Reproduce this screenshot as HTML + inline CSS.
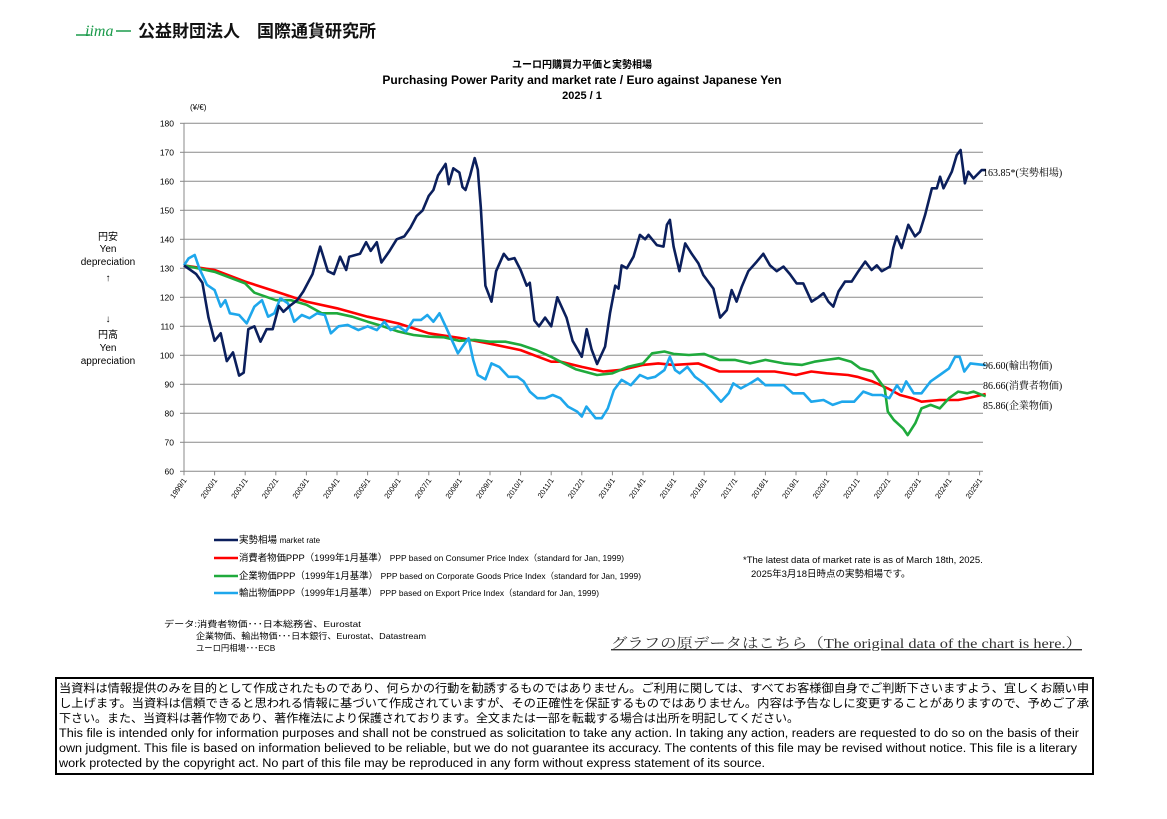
<!DOCTYPE html>
<html><head><meta charset="utf-8">
<style>
html,body{margin:0;padding:0;background:#fff;}
body{width:1167px;height:814px;overflow:hidden;position:relative;font-family:"Liberation Sans","Noto Sans CJK JP",sans-serif;}
svg text{font-family:"Liberation Sans","Noto Sans CJK JP",sans-serif;}
svg text.serif{font-family:"Liberation Serif","Noto Serif CJK SC",serif;}
</style></head><body>
<svg id="chart" width="1167" height="814" viewBox="0 0 1167 814" xmlns="http://www.w3.org/2000/svg">
<g>
<line x1="76" y1="35" x2="90" y2="35" stroke="#1a9a4a" stroke-width="1.5"/>
<text class="serif" x="85" y="36" font-size="16" font-style="italic" fill="#1a9a4a">iima</text>
<line x1="116" y1="31" x2="131" y2="31" stroke="#1a9a4a" stroke-width="1.5"/>
<text x="138" y="37" font-size="17" font-weight="bold" fill="#111">公益財団法人　国際通貨研究所</text>
</g>
<g text-anchor="middle" font-weight="bold" fill="#000">
<text x="582" y="68" font-size="10">ユーロ円購買力平価と実勢相場</text>
<text x="582" y="84" font-size="12">Purchasing Power Parity and market rate / Euro against Japanese Yen</text>
<text x="582" y="99" font-size="11">2025 / 1</text>
</g>
<text x="190" y="110" font-size="8" fill="#000">(¥/€)</text>
<g text-anchor="middle" font-size="10" fill="#000">
<text x="108" y="240">円安</text><text x="108" y="252">Yen</text><text x="108" y="265">depreciation</text><text x="108" y="281">↑</text>
<text x="108" y="322">↓</text><text x="108" y="338">円高</text><text x="108" y="351">Yen</text><text x="108" y="364">appreciation</text>
</g>
<g id="grid"></g><g id="axes"></g><g id="series"></g><g id="endlabels"></g>
<g font-size="9.5" fill="#000">
<line x1="214" y1="540" x2="238" y2="540" stroke="#0b1f5c" stroke-width="2.5"/><text x="239" y="543">実勢相場 <tspan font-size="8">market rate</tspan></text>
<line x1="214" y1="558" x2="238" y2="558" stroke="#ff0000" stroke-width="2.5"/><text x="239" y="561" textLength="385" lengthAdjust="spacingAndGlyphs">消費者物価PPP（1999年1月基準） <tspan font-size="8.5">PPP based on Consumer Price Index（standard for Jan, 1999)</tspan></text>
<line x1="214" y1="576" x2="238" y2="576" stroke="#1faa3c" stroke-width="2.5"/><text x="239" y="579" textLength="402" lengthAdjust="spacingAndGlyphs">企業物価PPP（1999年1月基準） <tspan font-size="8.5">PPP based on Corporate Goods Price Index（standard for Jan, 1999)</tspan></text>
<line x1="214" y1="593" x2="238" y2="593" stroke="#1ea7ec" stroke-width="2.5"/><text x="239" y="596" textLength="360" lengthAdjust="spacingAndGlyphs">輸出物価PPP（1999年1月基準） <tspan font-size="8.5">PPP based on Export Price Index（standard for Jan, 1999)</tspan></text>
</g>
<g font-size="9.5" fill="#000">
<text x="743" y="563">*The latest data of market rate is as of  March 18th, 2025.</text>
<text x="751" y="577">2025年3月18日時点の実勢相場です。</text>
</g>
<g font-size="8.3" fill="#000">
<text x="164" y="627" textLength="197" lengthAdjust="spacingAndGlyphs">データ:消費者物価･･･日本総務省、Eurostat</text>
<text x="196" y="639" textLength="230" lengthAdjust="spacingAndGlyphs">企業物価、輸出物価･･･日本銀行、Eurostat、Datastream</text>
<text x="196" y="651">ユーロ円相場･･･ECB</text>
</g>
<text class="serif" x="611" y="648" font-size="14" fill="#333" text-decoration="underline" textLength="471" lengthAdjust="spacingAndGlyphs">グラフの原データはこちら（The original data of the chart is here.）</text>
<rect x="56" y="678" width="1037" height="96" fill="none" stroke="#000" stroke-width="2"/>
<g font-size="11.5" fill="#000">
<text x="59" y="692" textLength="1030" lengthAdjust="spacingAndGlyphs">当資料は情報提供のみを目的として作成されたものであり、何らかの行動を勧誘するものではありません。ご利用に関しては、すべてお客様御自身でご判断下さいますよう、宜しくお願い申</text>
<text x="59" y="707" textLength="1030" lengthAdjust="spacingAndGlyphs">し上げます。当資料は信頼できると思われる情報に基づいて作成されていますが、その正確性を保証するものではありません。内容は予告なしに変更することがありますので、予めご了承</text>
<text x="59" y="722" textLength="740" lengthAdjust="spacingAndGlyphs">下さい。また、当資料は著作物であり、著作権法により保護されております。全文または一部を転載する場合は出所を明記してください。</text>
<text x="59" y="737" textLength="1020" lengthAdjust="spacingAndGlyphs">This file is intended only for information purposes and shall not be construed as solicitation to take any action. In taking any action, readers are requested to do so on the basis of their</text>
<text x="59" y="752" textLength="1018" lengthAdjust="spacingAndGlyphs">own judgment. This file is based on information believed to be reliable, but we do not guarantee its accuracy. The contents of this file may be revised without notice. This file is a literary</text>
<text x="59" y="767" textLength="706" lengthAdjust="spacingAndGlyphs">work protected by the copyright act. No part of this file may be reproduced in any form without express statement of its source.</text>
</g>
</svg>
<script>
const yTicks = [60,70,80,90,100,110,120,130,140,150,160,170,180];
const xTickLabels = ["1999/1","2000/1","2001/1","2002/1","2003/1","2004/1","2005/1","2006/1","2007/1","2008/1","2009/1","2010/1","2011/1","2012/1","2013/1","2014/1","2015/1","2016/1","2017/1","2018/1","2019/1","2020/1","2021/1","2022/1","2023/1","2024/1","2025/1"];
const marketT = [1999.0,1999.4,1999.6,1999.8,2000.0,2000.2,2000.4,2000.6,2000.8,2000.95,2001.1,2001.3,2001.5,2001.7,2001.9,2002.1,2002.25,2002.45,2002.7,2002.9,2003.2,2003.45,2003.7,2003.9,2004.1,2004.3,2004.4,2004.75,2004.95,2005.1,2005.3,2005.45,2005.7,2005.95,2006.2,2006.4,2006.6,2006.8,2007.0,2007.15,2007.3,2007.55,2007.65,2007.8,2008.0,2008.1,2008.2,2008.35,2008.5,2008.6,2008.7,2008.85,2009.05,2009.2,2009.45,2009.6,2009.8,2010.0,2010.2,2010.3,2010.45,2010.6,2010.8,2011.0,2011.2,2011.5,2011.7,2012.0,2012.16,2012.32,2012.5,2012.76,2012.92,2013.09,2013.2,2013.3,2013.47,2013.69,2013.9,2014.07,2014.18,2014.45,2014.67,2014.78,2014.88,2015.0,2015.19,2015.38,2015.59,2015.81,2015.97,2016.3,2016.52,2016.74,2016.9,2017.06,2017.23,2017.44,2017.72,2017.93,2018.15,2018.37,2018.59,2018.8,2019.02,2019.24,2019.51,2019.73,2019.9,2020.06,2020.22,2020.39,2020.6,2020.82,2021.04,2021.26,2021.47,2021.64,2021.8,2022.07,2022.18,2022.29,2022.45,2022.67,2022.89,2023.05,2023.22,2023.44,2023.6,2023.71,2023.82,2024.09,2024.25,2024.38,2024.52,2024.63,2024.8,2025.07,2025.2];
const marketV = [131,128,125,113,105,107.6,98,101,93,94,109,110,104.7,109,109,117,115,117,119,122,128,137.5,129,128,134,129.4,134,135,139,136,139,132,135.7,140,141,144,148,150,155,157,162,166,159,164.5,163,158,157,162,168,164,151,124,118.5,129,135,133,133.5,129.4,124,125,112,110,113,110,120,113,105,99.5,109,102,97,103,114.5,124,123,131,130,134,141.5,140,141.5,138,137.5,145,146.7,137.5,129,138.6,135,131.7,127.7,123,113,115.6,122.5,118.5,123.7,129,132.3,135,131,129,130.6,128,124.8,124.8,118.5,120,121.4,118.5,116.8,122,125.4,125.4,129,132.3,129.4,131,129,130.6,137,141,137,145,141,142.6,148.4,157.6,157.6,161.6,157.6,163.3,169,170.8,159.3,163.3,161,163.9,163.85];
const cpiT = [1999.0,2000.0,2001.0,2002.0,2003.0,2004.0,2005.0,2006.0,2007.0,2008.0,2009.0,2010.0,2011.0,2011.3,2012.0,2012.7,2013.3,2014.0,2014.5,2015.0,2015.8,2016.5,2017.5,2018.3,2019.0,2019.5,2020.0,2020.7,2021.0,2021.5,2022.0,2022.4,2022.8,2023.1,2023.7,2024.3,2024.7,2025.2];
const cpiV = [131,129.4,125.4,122,118.5,116.2,113.3,111,107.6,106,104,101.8,97.8,97.8,96,94.4,95,96.7,97.2,96.7,97.2,94.4,94.4,94.4,93.2,94.4,93.8,93.2,92.6,91,88.6,86.3,85.2,84,84.6,84.6,85.4,86.66];
const cgpiT = [1999.0,2000.0,2001.0,2001.3,2002.0,2002.5,2003.0,2003.5,2004.0,2004.5,2005.0,2005.5,2006.0,2006.5,2007.0,2007.5,2008.0,2008.5,2009.0,2009.5,2010.0,2010.5,2011.0,2011.3,2011.8,2012.5,2013.0,2013.5,2014.0,2014.3,2014.7,2015.0,2015.5,2016.0,2016.5,2017.0,2017.5,2018.0,2018.6,2019.2,2019.6,2020.0,2020.4,2020.8,2021.1,2021.5,2021.9,2022.0,2022.2,2022.5,2022.65,2022.9,2023.1,2023.4,2023.7,2024.0,2024.3,2024.6,2024.8,2025.2];
const cgpiV = [131,128.8,124.8,121.6,119,119,117.4,114.5,114.5,113.3,111.6,110,108.2,107,106.4,106.2,105,105.3,104.7,104.7,103.6,101.8,99.5,97.8,95.2,93.2,93.8,96,97.2,100.7,101.3,100.5,100.1,100.5,98.4,98.4,97.2,98.4,97.2,96.7,97.8,98.4,99,97.8,95.5,94.4,88.6,80.6,77.7,74.8,72.5,76.6,81.7,82.9,81.7,85.2,87.5,86.9,87.5,85.86];
const exportT = [1999.0,1999.15,1999.35,1999.5,1999.75,2000.0,2000.2,2000.35,2000.5,2000.8,2001.05,2001.3,2001.55,2001.75,2001.95,2002.15,2002.4,2002.6,2002.85,2003.1,2003.35,2003.6,2003.8,2004.05,2004.35,2004.7,2005.0,2005.3,2005.55,2005.75,2006.0,2006.25,2006.5,2006.75,2006.95,2007.15,2007.35,2007.55,2007.75,2007.95,2008.1,2008.3,2008.45,2008.6,2008.85,2009.05,2009.3,2009.6,2009.9,2010.1,2010.3,2010.55,2010.8,2011.05,2011.3,2011.55,2011.85,2012.0,2012.15,2012.45,2012.65,2012.85,2013.05,2013.3,2013.6,2013.9,2014.15,2014.4,2014.7,2014.88,2015.05,2015.2,2015.45,2015.7,2016.0,2016.3,2016.55,2016.8,2016.95,2017.2,2017.5,2017.75,2018.0,2018.3,2018.6,2018.9,2019.25,2019.5,2019.9,2020.2,2020.5,2020.9,2021.2,2021.5,2021.8,2022.05,2022.3,2022.45,2022.6,2022.85,2023.1,2023.4,2023.7,2024.0,2024.2,2024.35,2024.5,2024.7,2025.2];
const exportV = [131,133.4,134.6,130,124.3,122.5,116.8,119,114.5,113.9,111,116.8,119,113.3,114.5,119.7,117.9,111.6,113.9,112.8,114.5,113.9,107.6,110,110.5,108.7,110,108.7,111.6,108.7,110,108.2,112.2,112.2,113.9,111.6,114.5,110,105.3,100.7,103,105.9,98.4,93.2,91.7,97.2,96,92.6,92.6,91,87.5,85.2,85.2,86.3,85.2,82.3,80.6,78.9,82.3,78.3,78.3,81.7,88,91.5,89.7,93.2,92,92.6,94.9,99.5,94.9,93.8,96,92.6,90.3,86.9,84,86.9,90.3,88.6,90.3,92,89.7,89.7,89.7,86.9,86.9,84,84.6,82.9,84,84,87.5,86.3,86.3,85.2,89.7,87.5,91,86.9,86.9,91,93.2,95.5,99.5,99.5,94.4,97.2,96.6];

const NS = "http://www.w3.org/2000/svg";
const L = 184, R = 983, T = 123.3, B = 471.3;
const x0 = 184, pxPerYear = 30.6;
function xScale(t){ return x0 + (t - 1999) * pxPerYear; }
function yScale(v){ return B - (v - 60) / 120 * (B - T); }
function mk(tag, attrs, parent){ const e = document.createElementNS(NS, tag); for (const k in attrs) e.setAttribute(k, attrs[k]); parent.appendChild(e); return e; }

const grid = document.getElementById('grid');
const axes = document.getElementById('axes');
yTicks.forEach(v => {
  const y = yScale(v);
  if (v > 60) {
    const gl = mk('line', {x1:L, x2:R, y1:y, y2:y, stroke:'#8a8a8a', 'stroke-width':1}, grid);
    
    
  }
  mk('line', {x1:L-4, x2:L, y1:y, y2:y, stroke:'#888'}, axes);
  const t = mk('text', {x:L-10, y:y+3, 'font-size':8.5, 'text-anchor':'end', fill:'#000'}, axes);
  t.textContent = v;
  
  
});
const yAxis = mk('line', {x1:L, x2:L, y1:T, y2:B, stroke:'#888'}, axes);


const xAxis = mk('line', {x1:L, x2:R, y1:B, y2:B, stroke:'#888'}, axes);


xTickLabels.forEach((lab, i) => {
  const x = xScale(1999 + i);
  mk('line', {x1:x, x2:x, y1:B, y2:B+4, stroke:'#888'}, axes);
  const t = mk('text', {x:x+3, y:B+9, 'font-size':7.5, 'text-anchor':'end', fill:'#000', transform:'rotate(-55 '+(x+3)+' '+(B+9)+')'}, axes);
  t.textContent = lab;
  
  
});

const series = document.getElementById('series');
function drawLine(ts, vs, color, name){
  const d = ts.map((t,i) => (i ? 'L' : 'M') + xScale(t).toFixed(1) + ',' + yScale(vs[i]).toFixed(1)).join(' ');
  const p = mk('path', {d:d, fill:'none', stroke:color, 'stroke-width':2.6, 'stroke-linejoin':'round'}, series);
  
  
}
drawLine(cpiT, cpiV, '#ff0000', 'cpi-ppp-line');
drawLine(cgpiT, cgpiV, '#1faa3c', 'corporate-ppp-line');
drawLine(exportT, exportV, '#1ea7ec', 'export-ppp-line');
drawLine(marketT, marketV, '#0b1f5c', 'market-rate-line');

const endl = document.getElementById('endlabels');
function endLabel(v, txt, y, name){
  const t = mk('text', {x:983, y:y, 'font-size':10, fill:'#000', 'class':'serif'}, endl);
  t.textContent = v.toFixed(2) + txt;
  
  
}
endLabel(marketV[marketV.length-1], '*(実勢相場)', 176, 'market-end-label');
endLabel(exportV[exportV.length-1], '(輸出物価)', 369, 'export-end-label');
endLabel(cpiV[cpiV.length-1], '(消費者物価)', 389, 'cpi-end-label');
endLabel(cgpiV[cgpiV.length-1], '(企業物価)', 409, 'corporate-end-label');
</script>
</body></html>
